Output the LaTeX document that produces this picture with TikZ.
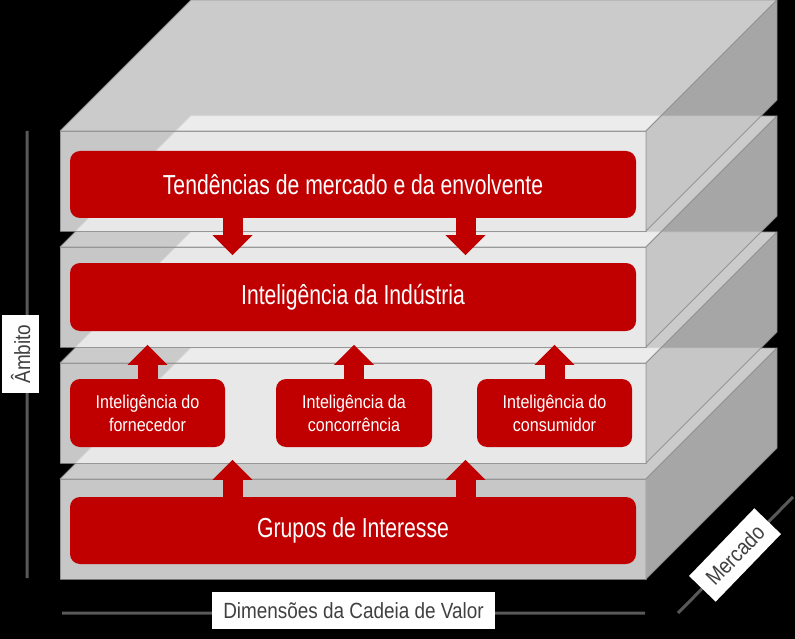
\documentclass[tikz,border=0pt]{standalone}
\usepackage{fontspec}
\setmainfont{Liberation Sans}
\newfontfamily\narrowfont{Liberation Sans}[FakeStretch=0.77]
\newfontfamily\smallfont{Liberation Sans}[FakeStretch=0.87]
\newfontfamily\axisfont{Liberation Sans}[FakeStretch=0.86]
\usetikzlibrary{arrows.meta}
\definecolor{vermelho}{RGB}{192,0,0}
\definecolor{frente}{RGB}{238,238,238}
\definecolor{topo}{RGB}{243,243,243}
\definecolor{lado}{RGB}{198,198,198}
\definecolor{aresta}{RGB}{140,140,140}
\definecolor{eixo}{RGB}{89,89,89}
\definecolor{rotulo}{RGB}{64,64,64}
\begin{document}
\begin{tikzpicture}[x=1pt, y=-1pt, line join=round,
	caixa/.style={fill=vermelho, rounded corners=10pt, text=white, inner sep=0pt},
	grande/.style={caixa, minimum width=566pt, minimum height=67pt, font=\narrowfont\fontsize{27.5}{30}\selectfont},
	pequena/.style={caixa, minimum width=155pt, minimum height=68pt, align=center, font=\smallfont\fontsize{18.5}{23}\selectfont},
	rotulo/.style={fill=white, text=rotulo, minimum height=37pt, inner sep=0pt, font=\axisfont\fontsize{22}{24}\selectfont},
	seta/.style={vermelho, line width=20pt, -{Triangle[width=40pt, length=20pt, line width=0pt]}},
	face/.style={opacity=.84, draw=aresta, line width=.8pt}]
	\useasboundingbox (0,0) rectangle (795,639);
	\fill[black] (0,0) rectangle (795,639);
	% camadas, de baixo para cima
	\foreach \y in {479,363,247,131}{
		\filldraw[face, fill=topo] (60,\y)--(191,\y-131)--(777,\y-131)--(646,\y)--cycle;
		\filldraw[face, fill=frente] (60,\y) rectangle (646,\y+100);
		\filldraw[face, fill=lado] (646,\y)--(777,\y-131)--(777,\y-31)--(646,\y+100)--cycle;
	}
	% eixos
	\coordinate (ambA) at (27,131); \coordinate (ambB) at (27,578);
	\coordinate (cadA) at (62,613); \coordinate (cadB) at (645,613);
	\coordinate (merA) at (678,613); \coordinate (merB) at (793,497);
	\draw[eixo, line width=3pt] (ambA)--(ambB) (cadA)--(cadB) (merA)--(merB);
	\node[rotulo, rotate=90, minimum width=78pt] (ambito) at (20.5,354) {Âmbito};
	\node[rotulo, minimum width=283pt] (cadeia) at (353.5,610.5) {Dimensões da Cadeia de Valor};
	\node[rotulo, rotate=46, minimum width=94pt] (mercado) at (735,555) {Mercado};
	% caixas
	\node[grande] (tend) at (353,184.5) {Tendências de mercado e da envolvente};
	\node[grande, minimum height=68pt] (ind) at (353,297) {Inteligência da Indústria};
	\node[pequena] (forn) at (147.5,413) {Inteligência do\\fornecedor};
	\node[pequena, minimum width=156pt] (conc) at (354,413) {Inteligência da\\concorrência};
	\node[pequena] (cons) at (554.5,413) {Inteligência do\\consumidor};
	\node[grande] (grupos) at (353,530.5) {Grupos de Interesse};
	% setas
	\draw[seta] ([xshift=-120.5pt]tend.south) -- ++(0,37);
	\draw[seta] ([xshift=112.5pt]tend.south) -- ++(0,37);
	\foreach \n in {forn,conc,cons}\draw[seta] (\n.north) -- ++(0,-34);
	\draw[seta] ([xshift=-120.5pt]grupos.north) -- ++(0,-37);
	\draw[seta] ([xshift=112.5pt]grupos.north) -- ++(0,-37);
\end{tikzpicture}
\end{document}
